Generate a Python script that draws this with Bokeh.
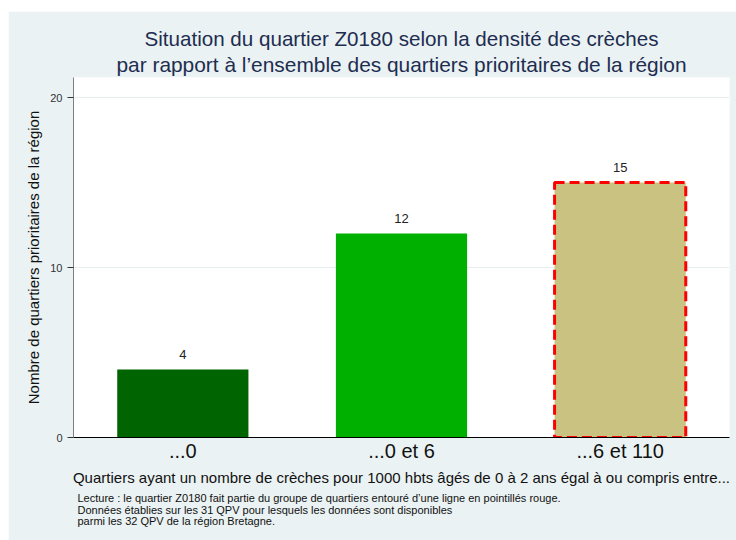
from bokeh.plotting import figure
from bokeh.models import ColumnDataSource, Range1d, FactorRange, Title, FixedTicker
from bokeh.core.properties import value
from bokeh.embed import file_html
from bokeh.resources import INLINE

categories = ["...0", "...0 et 6", "...6 et 110"]
counts = [4, 12, 15]
colors = ["#006400", "#00b000", "#c9c281"]
highlight = [False, False, True]
label_texts = [str(v) for v in counts]

title_lines = ["Situation du quartier Z0180 selon la densité des crèches",
               "par rapport à l\u2019ensemble des quartiers prioritaires de la région"]
notes = [
    "Lecture : le quartier Z0180 fait partie du groupe de quartiers entouré d\u2019une ligne en pointillés rouge.",
    "Données établies sur les 31 QPV pour lesquels les données sont disponibles",
    "parmi les 32 QPV de la région Bretagne.",
]

BG = "#eaf2f3"
FONT = "Liberation Sans"

src = ColumnDataSource(dict(cat=categories, val=counts, col=colors, txt=label_texts))

p = figure(width=728, height=529, output_backend="svg", toolbar_location=None,
           x_range=FactorRange(*categories, range_padding=0), y_range=Range1d(0, 21.18),
           min_border_left=65, min_border_right=7, min_border_top=66, min_border_bottom=103)
p.margin = (11, 0, 0, 8)

p.background_fill_color = "white"
p.border_fill_color = BG
p.outline_line_color = None

p.vbar(x="cat", top="val", width=0.6, fill_color="col", line_color=None, source=src)
hl = ColumnDataSource(dict(cat=[c for c, h in zip(categories, highlight) if h],
                           val=[v for v, h in zip(counts, highlight) if h]))
p.vbar(x="cat", top="val", width=0.6, fill_color=None, line_color="#ff0000",
       line_width=3, line_dash="10 5", source=hl)

p.text(x="cat", y="val", text="txt", source=src, text_align="center", text_baseline="bottom",
       y_offset=-11, text_font_size="13px", text_color="#222222", text_font=value(FONT))

# title (two separately centred lines)
p.title.text = title_lines[0]
p.title.align = "center"
p.title.vertical_align = "bottom"
p.title.text_font = FONT
p.title.text_font_size = "20.6px"
p.title.text_font_style = "normal"
p.title.text_color = "#1e2d50"
p.title.standoff = 0
t2 = Title(text=title_lines[1], align="center", text_font=FONT, text_font_size="20.9px",
           text_font_style="normal", text_color="#1e2d50", standoff=3)
p.add_layout(t2, "above")

# y axis
p.yaxis.ticker = FixedTicker(ticks=[0, 10, 20])
p.yaxis.axis_label = "Nombre de quartiers prioritaires de la région"
p.yaxis.axis_label_text_font = FONT
p.yaxis.axis_label_text_font_style = "normal"
p.yaxis.axis_label_text_font_size = "15px"
p.yaxis.axis_label_text_color = "#111111"
p.yaxis.major_label_text_font = FONT
p.yaxis.major_label_text_font_size = "11px"
p.yaxis.major_label_text_color = "#333333"
p.yaxis.axis_line_color = "#808080"
p.yaxis.major_tick_line_color = "#333333"
p.yaxis.major_tick_out = 6
p.yaxis.major_tick_in = 0
p.yaxis.minor_tick_line_color = None
p.yaxis.major_label_orientation = "horizontal"

# x axis
p.xaxis.axis_label = "Quartiers ayant un nombre de crèches pour 1000 hbts âgés de 0 à 2 ans égal à ou compris entre..."
p.xaxis.axis_label_text_font = FONT
p.xaxis.axis_label_text_font_style = "normal"
p.xaxis.axis_label_text_font_size = "15px"
p.xaxis.axis_label_text_color = "#111111"
p.xaxis.axis_label_standoff = 4
p.xaxis.major_label_text_font = FONT
p.xaxis.major_label_text_font_size = "20px"
p.xaxis.major_label_text_color = "#111111"
p.xaxis.major_tick_line_color = None
p.xaxis.minor_tick_line_color = None
p.xaxis.axis_line_color = "black"
p.xaxis.major_label_standoff = 2
p.xaxis.major_tick_out = 0

p.xgrid.grid_line_color = None
p.ygrid.grid_line_color = "#e6eef0"
p.ygrid.ticker = FixedTicker(ticks=[10, 20])

nt = Title(text="\n".join(notes), align="left", text_font=FONT, text_font_size="11px",
           text_font_style="normal", text_color="#111111", offset=4,
           standoff=3, text_line_height=0.95)
p.add_layout(nt, "below")

open("out.html", "w").write(file_html(p, INLINE))
